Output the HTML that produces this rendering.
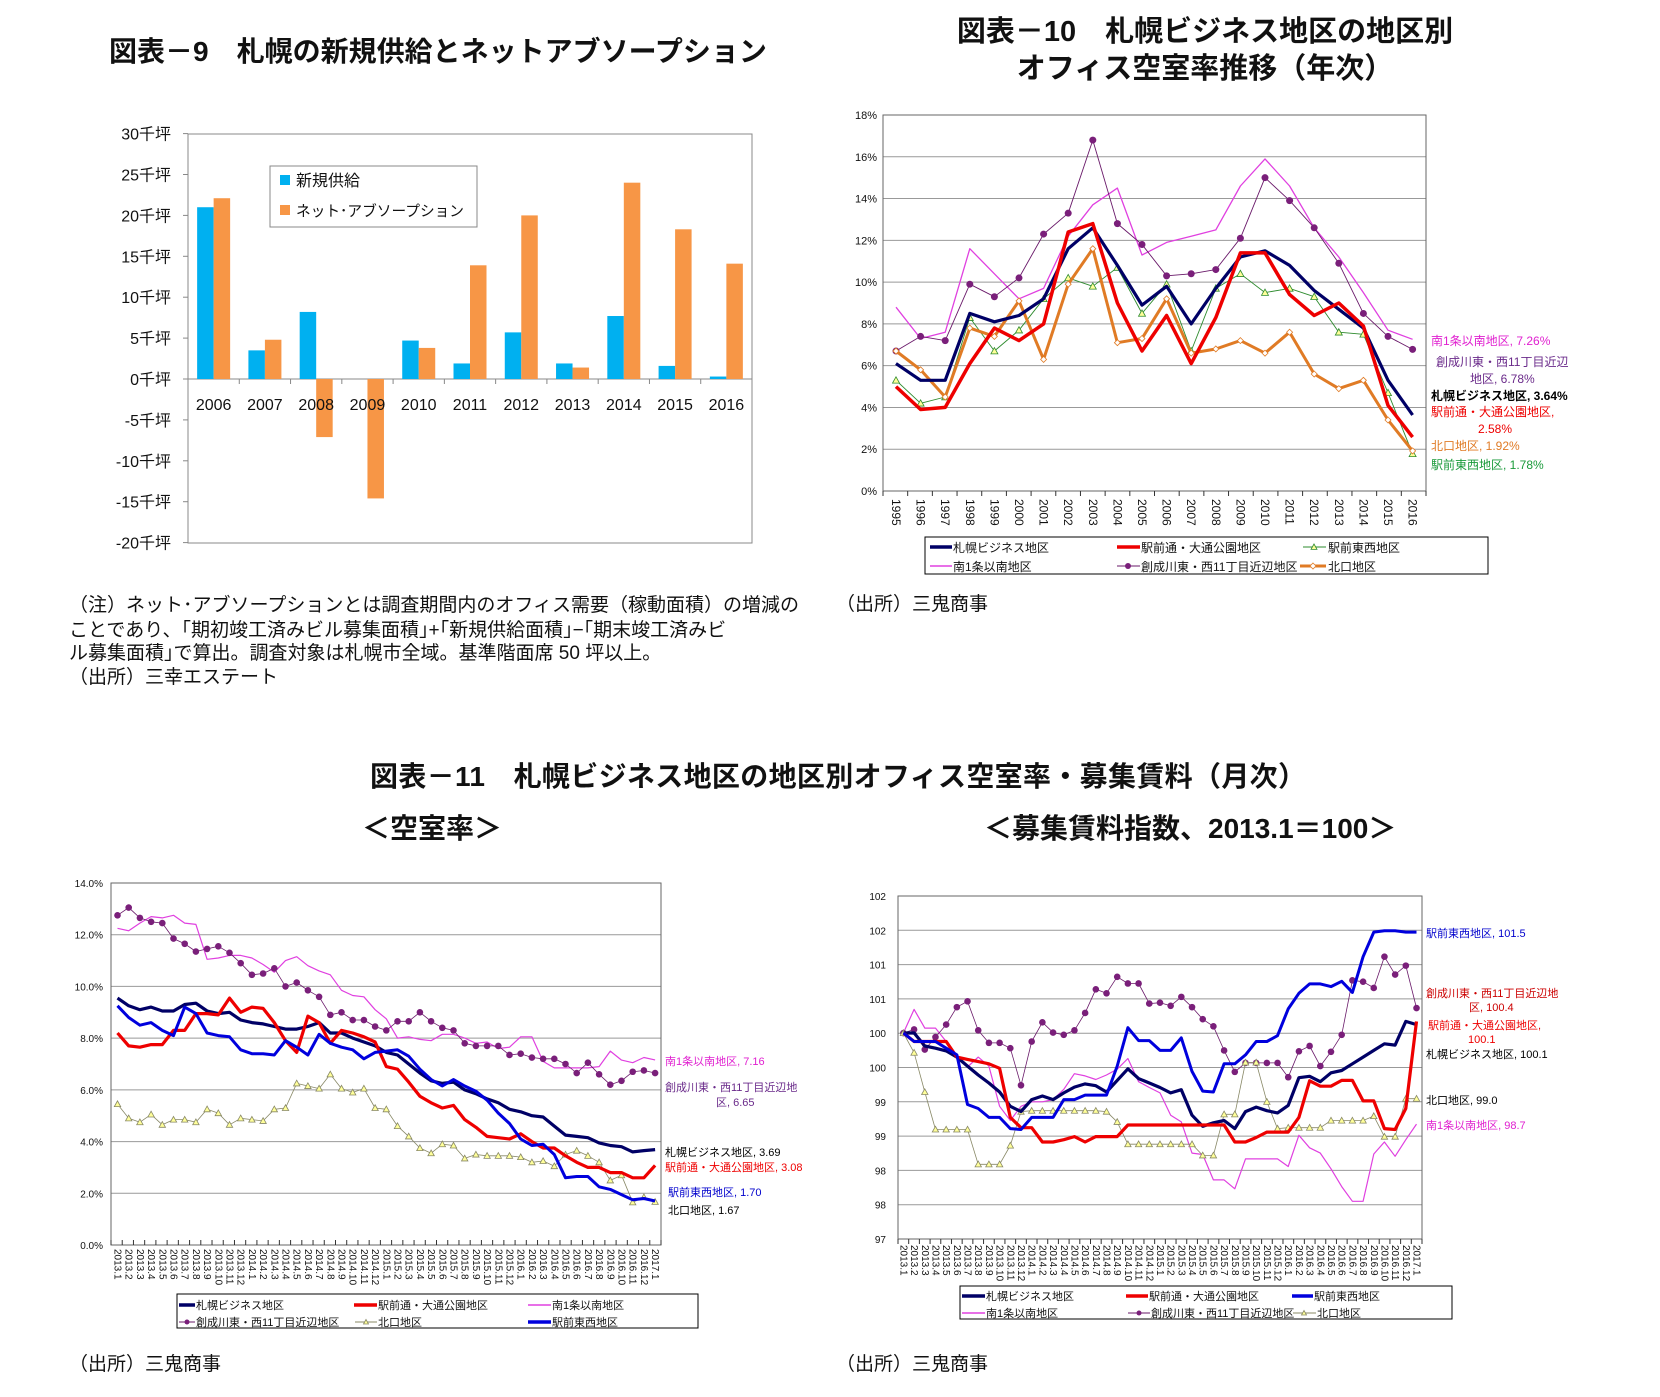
<!DOCTYPE html>
<html><head><meta charset="utf-8"><style>
html,body{margin:0;padding:0;background:#fff;}
body{width:1660px;height:1397px;overflow:hidden;}
svg{display:block;font-family:"Liberation Sans","Noto Sans CJK JP",sans-serif;}
</style></head><body>
<svg id="s" width="1660" height="1397" xmlns="http://www.w3.org/2000/svg">
<g font-weight="bold" font-size="28" fill="#111">
<text x="109" y="61">図表－9　札幌の新規供給とネットアブソープション</text>
<text x="1205" y="41" text-anchor="middle" font-size="29">図表－10　札幌ビジネス地区の地区別</text>
<text x="1205" y="78" text-anchor="middle" font-size="29">オフィス空室率推移（年次）</text>
<text x="370" y="786" textLength="936" lengthAdjust="spacing">図表－11　札幌ビジネス地区の地区別オフィス空室率・募集賃料（月次）</text>
<text x="362" y="838">＜空室率＞</text>
<text x="984" y="838">＜募集賃料指数、2013.1＝100＞</text>
</g>
<g font-size="19" fill="#111">
<text x="69" y="611">（注）ネット･アブソープションとは調査期間内のオフィス需要（稼動面積）の増減の</text>
<text x="69" y="636">ことであり、｢期初竣工済みビル募集面積｣+｢新規供給面積｣−｢期末竣工済みビ</text>
<text x="69" y="659">ル募集面積｣で算出。調査対象は札幌市全域。基準階面席 50 坪以上。</text>
<text x="69" y="683">（出所）三幸エステート</text>
<text x="836" y="610">（出所）三鬼商事</text>
<text x="69" y="1370">（出所）三鬼商事</text>
<text x="836" y="1370">（出所）三鬼商事</text>
</g>
<g id="g"></g>
</svg>
<script>
var g=document.getElementById('g'),NS='http://www.w3.org/2000/svg';
function el(t,a,txt){var e=document.createElementNS(NS,t);for(var k in a)e.setAttribute(k,a[k]);if(txt!=null)e.textContent=txt;g.appendChild(e);return e;}
function line(x1,y1,x2,y2,c,w){el('line',{x1:x1,y1:y1,x2:x2,y2:y2,stroke:c,'stroke-width':w||1});}
function txt(x,y,s,o){var a={x:x,y:y};for(var k in o)a[k]=o[k];el('text',a,s);}
function pl(xs,ys,c,w){var p=[];for(var i=0;i<xs.length;i++)p.push(xs[i].toFixed(1)+','+ys[i].toFixed(1));el('polyline',{points:p.join(' '),fill:'none',stroke:c,'stroke-width':w,'stroke-linejoin':'round'});}
function mk(xs,ys,type,c,r){for(var i=0;i<xs.length;i++){var x=xs[i],y=ys[i];
 if(type=='dot')el('circle',{cx:x,cy:y,r:r,fill:c});
 else if(type=='tri')el('polygon',{points:(x)+','+(y-r)+' '+(x-r)+','+(y+r*0.8)+' '+(x+r)+','+(y+r*0.8),fill:'#ffff99',stroke:c,'stroke-width':0.8});
 else if(type=='dia')el('polygon',{points:x+','+(y-r)+' '+(x+r)+','+y+' '+x+','+(y+r)+' '+(x-r)+','+y,fill:'#fff',stroke:c,'stroke-width':0.8});}}
/* ---------- Chart 9 ---------- */
(function(){var L=188,R=752,T=134,B=543,Z=379,u=8.18;
el('rect',{x:L,y:T,width:R-L,height:B-T,fill:'none',stroke:'#888','stroke-width':1});
for(var v=30;v>=-20;v-=5){var y=Z-v*u;line(L-5,y,L,y,'#888');txt(171,y+6,v+'千坪',{'text-anchor':'end','font-size':16,fill:'#111'});}
line(L,Z,R,Z,'#888');
var a=[21,3.5,8.2,0,4.7,1.9,5.7,1.9,7.7,1.6,0.3],b=[22.1,4.8,-7.1,-14.6,3.8,13.9,20,1.4,24,18.3,14.1];
var cw=(R-L)/11;
for(var i=0;i<11;i++){var c=L+cw*(i+0.5);
 if(a[i]>0)el('rect',{x:c-16.5,y:Z-a[i]*u,width:16.5,height:a[i]*u,fill:'#00b0f0'});
 var h=b[i]*u;el('rect',{x:c,y:h>0?Z-h:Z,width:16.5,height:Math.abs(h),fill:'#f79646'});
 line(L+cw*(i+1),Z,L+cw*(i+1),Z+5,'#888');
 txt(c,410,String(2006+i),{'text-anchor':'middle','font-size':16,fill:'#111'});}
el('rect',{x:270,y:166,width:207,height:61,fill:'#fff',stroke:'#888'});
el('rect',{x:280,y:175,width:10,height:10,fill:'#00b0f0'});txt(296,186,'新規供給',{'font-size':16,fill:'#111'});
el('rect',{x:280,y:205,width:10,height:10,fill:'#f79646'});txt(296,216,'ネット･アブソープション',{'font-size':15,fill:'#111',textLength:168,lengthAdjust:'spacingAndGlyphs'});
})();
/* ---------- Chart 10 ---------- */
(function(){var L=883,R=1426,T=115,B=491,u=(B-T)/18;
for(var v=0;v<=18;v+=2){var y=B-v*u;if(v>0)line(L,y,R,y,'#999');txt(877,y+4,v+'%',{'text-anchor':'end','font-size':11,fill:'#111'});}
el('rect',{x:L,y:T,width:R-L,height:B-T,fill:'none',stroke:'#666'});
var xs=[];for(var i=0;i<22;i++){xs.push(896+24.6*i);}
for(var i=0;i<=22;i++){var x=L+(R-L)/22*i;line(x,B,x,B+5,'#333');}
for(var i=0;i<22;i++)txt(xs[i]-4,499,String(1995+i),{transform:'rotate(90,'+(xs[i]-4)+',499)','font-size':12,fill:'#111'});
function Y(a){return a.map(function(v){return B-v*u;});}
var d={
 mag:[8.8,7.3,7.6,11.6,10.4,9.2,9.7,12.2,13.7,14.5,11.3,11.9,12.2,12.5,14.6,15.9,14.6,12.6,11.2,9.5,7.7,7.26],
 pur:[6.7,7.4,7.2,9.9,9.3,10.2,12.3,13.3,16.8,12.8,11.8,10.3,10.4,10.6,12.1,15.0,13.9,12.6,10.9,8.5,7.4,6.78],
 grn:[5.3,4.2,4.5,8.3,6.7,7.7,9.2,10.2,9.8,10.7,8.5,9.9,6.7,9.7,10.4,9.5,9.7,9.3,7.6,7.5,4.7,1.78],
 org:[6.7,5.8,4.5,7.8,7.4,9.1,6.3,9.9,11.6,7.1,7.3,9.2,6.6,6.8,7.2,6.6,7.6,5.6,4.9,5.3,3.4,1.92],
 nav:[6.1,5.3,5.3,8.5,8.1,8.4,9.2,11.6,12.6,10.8,8.9,9.8,8.0,9.7,11.2,11.5,10.8,9.6,8.7,7.8,5.3,3.64],
 red:[5.0,3.9,4.0,6.1,7.8,7.2,8.0,12.4,12.8,9.0,6.7,8.4,6.1,8.3,11.4,11.4,9.4,8.4,9.0,7.9,4.1,2.58]};
pl(xs,Y(d.mag),'#e040e0',1.3);
pl(xs,Y(d.pur),'#6a1a6a',0.9);mk(xs,Y(d.pur),'dot','#7a1f7a',3.5);
pl(xs,Y(d.grn),'#2e8b2e',0.9);mk(xs,Y(d.grn),'tri','#2e8b2e',3.5);
pl(xs,Y(d.org),'#e07b25',3);mk(xs,Y(d.org),'dia','#e07b25',3);
pl(xs,Y(d.nav),'#000066',3.2);
pl(xs,Y(d.red),'#ee0000',3.5);
var lb=[['南1条以南地区, 7.26%',1431,345,'#e020d0'],['創成川東・西11丁目近辺',1436,366,'#6a2a8a'],['地区, 6.78%',1470,383,'#6a2a8a'],['札幌ビジネス地区, 3.64%',1431,400,'#000'],['駅前通・大通公園地区,',1431,416,'#ee0000'],['2.58%',1478,433,'#ee0000'],['北口地区, 1.92%',1431,450,'#e07b25'],['駅前東西地区, 1.78%',1431,469,'#1a9a3a']];
lb.forEach(function(l){txt(l[1],l[2],l[0],{'font-size':12,fill:l[3],'font-weight':l[0].indexOf('札幌')==0?'bold':'normal'});});
el('rect',{x:925,y:537,width:563,height:37,fill:'none',stroke:'#000'});
line(930,547,952,547,'#000066',3.5);txt(953,552,'札幌ビジネス地区',{'font-size':12,fill:'#111'});
line(1117,547,1140,547,'#ee0000',3.5);txt(1141,552,'駅前通・大通公園地区',{'font-size':12,fill:'#111'});
line(1303,547,1326,547,'#2e8b2e',1);mk([1314],[547],'tri','#2e8b2e',3);txt(1328,552,'駅前東西地区',{'font-size':12,fill:'#111'});
line(930,566,952,566,'#e040e0',1.5);txt(953,571,'南1条以南地区',{'font-size':12,fill:'#111'});
line(1117,566,1140,566,'#6a1a6a',1);mk([1128],[566],'dot','#7a1f7a',3);txt(1141,571,'創成川東・西11丁目近辺地区',{'font-size':12,fill:'#111'});
line(1300,566,1326,566,'#e07b25',3);mk([1313],[566],'dia','#e07b25',3);txt(1328,571,'北口地区',{'font-size':12,fill:'#111'});
})();
/* ---------- Chart 11 left ---------- */
(function(){var L=111,R=661,T=883,B=1245,u=(B-T)/14;
for(var v=0;v<=14;v+=2){var y=B-v*u;if(v>0)line(L,y,R,y,'#999');txt(103,y+4,v.toFixed(1)+'%',{'text-anchor':'end','font-size':10,fill:'#111'});}
el('rect',{x:L,y:T,width:R-L,height:B-T,fill:'none',stroke:'#666'});
var xs=[],labs=[];for(var i=0;i<49;i++){xs.push(117.5+11.2*i);var yy=2013+Math.floor(i/12);labs.push(yy+'.'+(i%12+1));}
for(var i=0;i<=49;i++){var x=L+(R-L)/49*i;line(x,B,x,B-5,'#333');}
for(var i=0;i<49;i++)txt(xs[i]-3,1249,labs[i],{transform:'rotate(90,'+(xs[i]-3)+',1249)','font-size':10,fill:'#111'});
function Y(a){return a.map(function(v){return B-v*u;});}
var mag=[12.25,12.15,12.45,12.7,12.65,12.75,12.45,12.4,11.05,11.1,11.2,11.2,11.1,10.85,10.55,11.0,11.15,10.8,10.6,10.45,9.85,9.65,9.6,9.1,8.75,8.0,8.05,7.95,7.9,8.15,8.15,8.0,7.8,7.85,7.6,7.65,8.05,8.05,7.1,6.85,6.85,6.85,6.85,6.9,7.5,7.15,7.05,7.25,7.16];
var pur=[12.75,13.05,12.65,12.5,12.45,11.85,11.65,11.35,11.45,11.55,11.3,10.9,10.45,10.5,10.7,10.0,10.15,9.85,9.6,8.9,9.0,8.7,8.7,8.45,8.3,8.65,8.65,9.0,8.65,8.4,8.3,7.8,7.7,7.7,7.7,7.35,7.4,7.25,7.2,7.2,7.0,6.65,7.05,6.6,6.2,6.35,6.7,6.75,6.65];
var nk=[5.45,4.9,4.75,5.05,4.65,4.85,4.85,4.75,5.25,5.1,4.65,4.9,4.85,4.8,5.25,5.3,6.25,6.15,6.05,6.6,6.05,5.9,6.05,5.3,5.25,4.6,4.2,3.75,3.55,3.9,3.85,3.35,3.5,3.45,3.45,3.45,3.4,3.2,3.25,3.05,3.5,3.65,3.45,3.2,2.5,2.7,1.65,1.85,1.67];
var nav=[9.55,9.25,9.1,9.2,9.05,9.05,9.3,9.35,9.05,8.95,9.0,8.7,8.6,8.55,8.45,8.35,8.35,8.45,8.6,8.2,8.2,8.0,7.85,7.7,7.45,7.35,7.0,6.65,6.35,6.25,6.3,6.0,5.85,5.65,5.5,5.25,5.15,5.0,4.95,4.6,4.25,4.2,4.15,3.95,3.85,3.8,3.6,3.65,3.69];
var red=[8.2,7.7,7.65,7.75,7.75,8.3,8.3,8.95,8.95,8.9,9.55,9.0,9.2,9.15,8.6,7.9,7.45,8.85,8.6,7.8,8.3,8.2,8.05,7.85,6.9,6.8,6.3,5.75,5.5,5.3,5.4,4.85,4.55,4.2,4.15,4.1,4.3,4.0,3.75,3.75,3.45,3.2,3.0,3.0,2.8,2.8,2.6,2.6,3.08];
var blu=[9.25,8.8,8.5,8.6,8.3,8.1,9.2,8.95,8.2,8.1,8.05,7.55,7.4,7.4,7.35,7.9,7.65,7.35,8.15,7.8,7.65,7.55,7.2,7.45,7.5,7.55,7.3,6.8,6.4,6.15,6.4,6.15,5.95,5.6,5.1,4.7,4.1,3.85,3.9,3.5,2.6,2.65,2.65,2.25,2.15,1.95,1.75,1.8,1.70];
pl(xs,Y(mag),'#e040e0',1.2);
pl(xs,Y(pur),'#6a1a6a',0.8);mk(xs,Y(pur),'dot','#7a1f7a',3.3);
pl(xs,Y(nk),'#888866',0.8);mk(xs,Y(nk),'tri','#888866',3.2);
pl(xs,Y(nav),'#000066',3.2);
pl(xs,Y(red),'#ee0000',3.2);
pl(xs,Y(blu),'#0000dd',3);
var lb=[['南1条以南地区, 7.16',665,1065,'#e020d0'],['創成川東・西11丁目近辺地',665,1091,'#6a2a8a'],['区, 6.65',716,1106,'#6a2a8a'],['札幌ビジネス地区, 3.69',665,1156,'#000'],['駅前通・大通公園地区, 3.08',665,1171,'#ee0000'],['駅前東西地区, 1.70',668,1196,'#0000cc'],['北口地区, 1.67',668,1214,'#000']];
lb.forEach(function(l){txt(l[1],l[2],l[0],{'font-size':11,fill:l[3]});});
el('rect',{x:177,y:1294,width:521,height:34,fill:'none',stroke:'#000'});
var f={'font-size':11,fill:'#111'};
line(179,1305,195,1305,'#000066',3.5);txt(196,1309,'札幌ビジネス地区',f);
line(354,1305,377,1305,'#ee0000',3.5);txt(378,1309,'駅前通・大通公園地区',f);
line(528,1305,551,1305,'#e040e0',1.5);txt(552,1309,'南1条以南地区',f);
line(179,1322,195,1322,'#6a1a6a',1);mk([187],[1322],'dot','#7a1f7a',2.5);txt(196,1326,'創成川東・西11丁目近辺地区',f);
line(355,1322,377,1322,'#888866',1);mk([366],[1322],'tri','#888866',2.5);txt(378,1326,'北口地区',f);
line(528,1322,551,1322,'#0000dd',3.5);txt(552,1326,'駅前東西地区',f);
})();
/* ---------- Chart 11 right ---------- */
(function(){var L=898,R=1422,T=896,B=1239;
var gl=[102,102,101,101,100,100,99,99,98,98,97];
for(var k=0;k<=10;k++){var y=T+(B-T)/10*k;if(k>0&&k<10)line(L,y,R,y,'#999');txt(886,y+4,String(gl[k]),{'text-anchor':'end','font-size':10,fill:'#111'});}
el('rect',{x:L,y:T,width:R-L,height:B-T,fill:'none',stroke:'#666'});
var xs=[],labs=[];for(var i=0;i<49;i++){xs.push(903.4+10.69*i);var yy=2013+Math.floor(i/12);labs.push(yy+'.'+(i%12+1));}
for(var i=0;i<=49;i++){var x=L+(R-L)/49*i;line(x,B,x,B+5,'#333');}
for(var i=0;i<49;i++)txt(xs[i]-3,1245,labs[i],{transform:'rotate(90,'+(xs[i]-3)+',1245)','font-size':10,fill:'#111'});
function Y(a){return a.map(function(v){return 700+v/2.24;});}
var nav=[746,746,775,780,786,800,820,840,858,878,910,922,895,887,895,880,867,860,864,878,852,826,848,858,868,880,873,930,955,947,942,960,922,912,920,925,908,846,843,855,835,830,815,800,785,770,773,720,727];
var red=[746,765,765,765,765,800,805,810,815,825,935,958,958,990,990,985,978,990,978,978,978,952,952,952,952,952,952,952,952,952,952,990,990,980,968,968,968,935,853,865,865,852,852,898,898,960,962,915,720];
var blu=[746,765,765,765,780,795,906,915,935,935,960,962,935,935,935,895,895,885,885,885,820,734,763,763,785,785,757,832,876,878,815,815,795,765,765,752,692,657,636,636,642,630,655,575,520,517,517,520,520];
var mag=[746,693,735,735,765,800,822,800,820,910,942,910,900,900,895,872,837,842,850,840,827,803,855,868,880,930,945,1015,1018,1075,1075,1095,1028,1028,1028,1028,1045,975,1003,1015,1050,1090,1123,1123,1017,990,1022,985,950];
var pur=[746,738,783,755,727,688,675,740,768,768,780,863,765,722,745,750,740,701,648,657,620,635,635,680,678,685,665,688,715,731,785,833,813,813,813,813,845,787,775,820,788,750,628,631,645,575,615,595,690];
var nk=[746,790,878,962,962,962,962,1040,1040,1040,998,922,920,920,920,920,920,920,920,922,945,995,995,995,995,995,995,995,1020,1020,928,928,812,812,900,960,958,958,958,958,942,942,942,942,932,978,978,893,893];
pl(xs,Y(mag),'#e040e0',1.2);
pl(xs,Y(pur),'#6a1a6a',0.8);mk(xs,Y(pur),'dot','#7a1f7a',3.3);
pl(xs,Y(nk),'#888866',0.8);mk(xs,Y(nk),'tri','#888866',3.2);
pl(xs,Y(nav),'#000066',3.2);
pl(xs,Y(red),'#ee0000',3.2);
pl(xs,Y(blu),'#0000dd',3);
var lb=[['駅前東西地区, 101.5',1426,937,'#0000cc'],['創成川東・西11丁目近辺地',1426,997,'#cc0000'],['区, 100.4',1469,1011,'#cc0000'],['駅前通・大通公園地区,',1428,1029,'#ee0000'],['100.1',1468,1043,'#ee0000'],['札幌ビジネス地区, 100.1',1426,1058,'#000'],['北口地区, 99.0',1426,1104,'#000'],['南1条以南地区, 98.7',1426,1129,'#e020d0']];
lb.forEach(function(l){txt(l[1],l[2],l[0],{'font-size':11,fill:l[3]});});
el('rect',{x:960,y:1286,width:492,height:33,fill:'none',stroke:'#000'});
var f={'font-size':11,fill:'#111'};
line(962,1296,985,1296,'#000066',3.5);txt(986,1300,'札幌ビジネス地区',f);
line(1126,1296,1148,1296,'#ee0000',3.5);txt(1149,1300,'駅前通・大通公園地区',f);
line(1292,1296,1313,1296,'#0000dd',3.5);txt(1314,1300,'駅前東西地区',f);
line(962,1313,985,1313,'#e040e0',1.5);txt(986,1317,'南1条以南地区',f);
line(1128,1313,1150,1313,'#6a1a6a',1);mk([1139],[1313],'dot','#7a1f7a',2.5);txt(1151,1317,'創成川東・西11丁目近辺地区',f);
line(1293,1313,1316,1313,'#888866',1);mk([1304],[1313],'tri','#888866',2.5);txt(1317,1317,'北口地区',f);
})();
</script>
</body></html>
